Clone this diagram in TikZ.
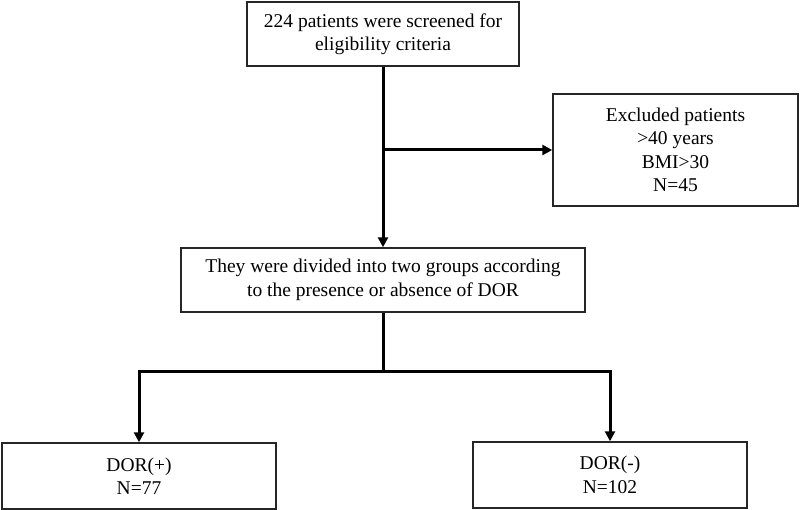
\documentclass[tikz,border=0pt]{standalone}
\usepackage{fontspec}
\setmainfont{Liberation Serif}
\usetikzlibrary{arrows.meta}
\begin{document}
\begin{tikzpicture}[x=1pt,y=-1pt,
  boxnode/.style={draw=black!85,line width=1.4pt,rectangle,inner sep=0pt,align=center,
    font=\fontsize{19.5pt}{23.5pt}\selectfont,text=black},
  conn/.style={line width=3pt,draw=black},
  arr/.style={conn,-{Triangle[length=10pt,width=10pt]}}]
\useasboundingbox (0,0) rectangle (800,510);
\node[boxnode,minimum width=272pt,minimum height=64pt] (top) at (383,34) {224 patients were screened for\\eligibility criteria};
\node[boxnode,minimum width=245pt,minimum height=112pt] (excl) at (675.5,150) {Excluded patients\\>40 years\\BMI>30\\N=45};
\node[boxnode,minimum width=404pt,minimum height=64pt] (mid) at (383,280) {They were divided into two groups according\\to the presence or absence of DOR};
\node[boxnode,minimum width=274pt,minimum height=66pt] (left) at (139,476) {DOR(+)\\N=77};
\node[boxnode,minimum width=274pt,minimum height=66pt] (right) at (610,475) {DOR(-)\\N=102};
\coordinate (br) at (top.south |- excl.west);
\coordinate (sp) at (mid.south |- 0,371);
\draw[arr] (top.south) -- (mid.north);
\draw[arr] (br) -- (excl.west);
\draw[conn] (mid.south) -- (sp);
\draw[arr] (sp) -| (left.north);
\draw[arr] (sp) -| (right.north);
\end{tikzpicture}
\end{document}
